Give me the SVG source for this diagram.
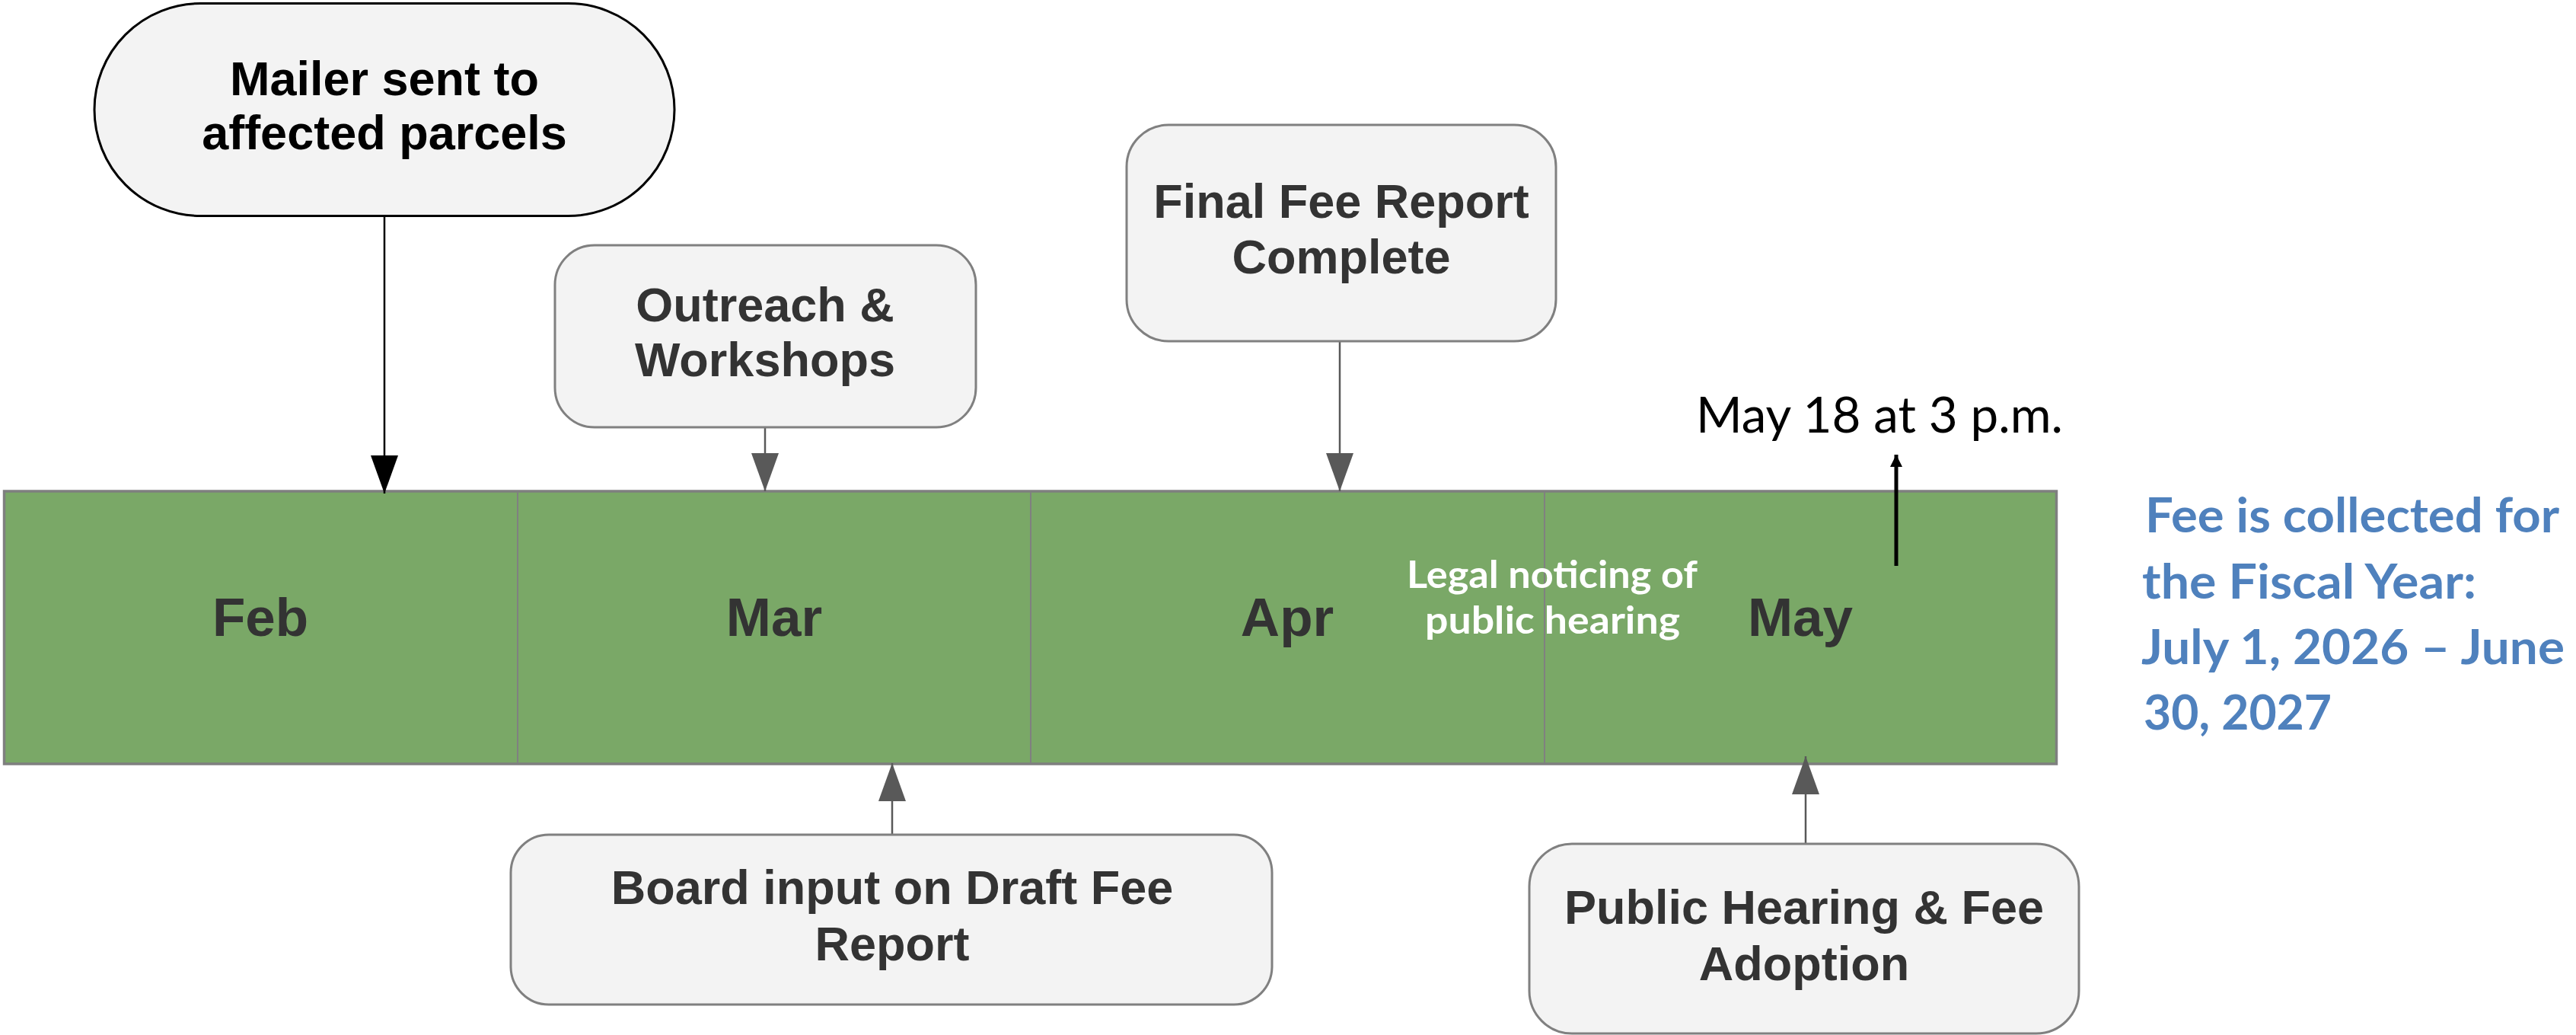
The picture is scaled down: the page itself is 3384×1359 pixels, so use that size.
<svg xmlns="http://www.w3.org/2000/svg" width="3384" height="1359" viewBox="0 0 3384 1359">
<style>
.node{fill:#f3f3f3;stroke:#808080;stroke-width:3}
.mailer{fill:#f3f3f3;stroke:#000;stroke-width:3}
.nt{font-family:"Liberation Sans",Arial,sans-serif;font-weight:bold;font-size:63px;fill:#333;text-anchor:middle}
.mt{font-family:"Liberation Sans",Arial,sans-serif;font-weight:bold;font-size:71px;fill:#333;text-anchor:middle}
.cal{font-family:Lato,"Open Sans",sans-serif}
.conn{stroke:#595959;stroke-width:2.5;fill:none}
.div{stroke:#808080;stroke-width:2}
</style>
<defs>
<marker id="ahGray" markerUnits="userSpaceOnUse" viewBox="0 0 50 36" refX="50" refY="18" markerWidth="50" markerHeight="36" orient="auto">
<path d="M0,0 L50,18 L0,36 z" fill="#595959"/>
</marker>
<marker id="ahBlack" markerUnits="userSpaceOnUse" viewBox="0 0 50 36" refX="50" refY="18" markerWidth="50" markerHeight="36" orient="auto">
<path d="M0,0 L50,18 L0,36 z" fill="#000"/>
</marker>
<marker id="ahSmall" markerUnits="userSpaceOnUse" viewBox="0 0 16 16" refX="16" refY="8" markerWidth="16" markerHeight="16" orient="auto">
<path d="M0,0 L16,8 L0,16 z" fill="#000"/>
</marker>
</defs>

<g id="timeline-bar">
<rect x="5.5" y="645" width="2696" height="358" fill="#7aa867" stroke="#7f7f7f" stroke-width="3.5"/>
<line class="div" x1="680" y1="645" x2="680" y2="1003"/>
<line class="div" x1="1354" y1="645" x2="1354" y2="1003"/>
<line class="div" x1="2029" y1="645" x2="2029" y2="1003"/>
<text class="mt" x="342" y="835">Feb</text>
<text class="mt" x="1017" y="835">Mar</text>
<text class="mt" x="1691" y="835">Apr</text>
<text class="mt" x="2365" y="835">May</text>
</g>

<g id="legal-noticing">
<text class="cal" font-weight="bold" font-size="50" fill="#fff" x="1848" y="772" textLength="382" lengthAdjust="spacingAndGlyphs">Legal noticing of</text>
<text class="cal" font-weight="bold" font-size="50" fill="#fff" x="1872" y="832" textLength="335" lengthAdjust="spacingAndGlyphs">public hearing</text>
</g>

<g id="connectors">
<line x1="505" y1="283" x2="505" y2="648" stroke="#000" stroke-width="2.5" marker-end="url(#ahBlack)"/>
<line class="conn" x1="1005" y1="561" x2="1005" y2="645" marker-end="url(#ahGray)"/>
<line class="conn" x1="1760" y1="448" x2="1760" y2="645" marker-end="url(#ahGray)"/>
<line class="conn" x1="1172" y1="1096" x2="1172" y2="1002" marker-end="url(#ahGray)"/>
<line class="conn" x1="2372" y1="1108" x2="2372" y2="993" marker-end="url(#ahGray)"/>
<line x1="2491" y1="743" x2="2491" y2="597" stroke="#000" stroke-width="5" marker-end="url(#ahSmall)"/>
</g>

<g id="mailer">
<rect class="mailer" x="124" y="4.5" width="762" height="279" rx="139.5" ry="139.5"/>
<text class="nt" x="505" y="125" style="fill:#000">Mailer sent to</text>
<text class="nt" x="505" y="196" style="fill:#000">affected parcels</text>
</g>

<g id="outreach">
<rect class="node" x="729" y="322" width="553" height="239" rx="52" ry="52"/>
<text class="nt" x="1005" y="422">Outreach &amp;</text>
<text class="nt" x="1005" y="494">Workshops</text>
</g>

<g id="final-fee">
<rect class="node" x="1480" y="164" width="564" height="284" rx="55" ry="55"/>
<text class="nt" x="1762" y="286">Final Fee Report</text>
<text class="nt" x="1762" y="359">Complete</text>
</g>

<g id="board-input">
<rect class="node" x="671" y="1096" width="1000" height="223" rx="50" ry="50"/>
<text class="nt" x="1172" y="1187">Board input on Draft Fee</text>
<text class="nt" x="1172" y="1261">Report</text>
</g>

<g id="public-hearing">
<rect class="node" x="2009" y="1108" width="722" height="249" rx="56" ry="56"/>
<text class="nt" x="2370" y="1213">Public Hearing &amp; Fee</text>
<text class="nt" x="2370" y="1287">Adoption</text>
</g>

<g id="may-18">
<text class="cal" font-size="66" fill="#000" x="2228" y="568" textLength="482" lengthAdjust="spacingAndGlyphs">May 18 at 3 p.m.</text>
</g>

<g id="fiscal-year" class="cal" font-weight="bold" font-size="63" fill="#4f81bd">
<text x="2818" y="699" textLength="544" lengthAdjust="spacingAndGlyphs">Fee is collected for</text>
<text x="2814" y="786" textLength="439" lengthAdjust="spacingAndGlyphs">the Fiscal Year:</text>
<text x="2813" y="872" textLength="556" lengthAdjust="spacingAndGlyphs">July 1, 2026 –  June</text>
<text x="2816" y="958" textLength="247" lengthAdjust="spacingAndGlyphs">30, 2027</text>
</g>
</svg>
